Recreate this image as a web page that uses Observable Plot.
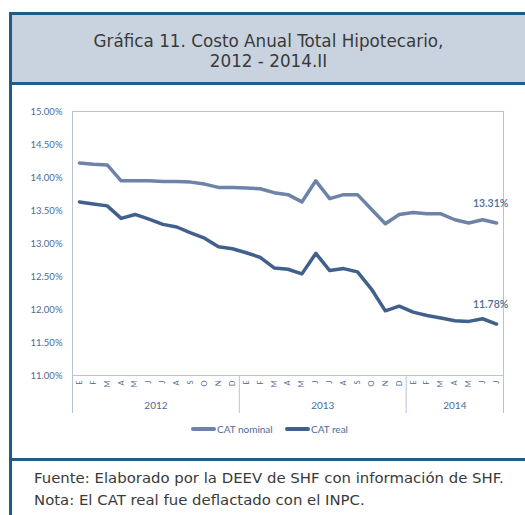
<!DOCTYPE html>
<html><head><meta charset="utf-8">
<script src="https://cdn.jsdelivr.net/npm/d3@7"></script>
<script src="https://cdn.jsdelivr.net/npm/@observablehq/plot@0.6"></script>
<style>
html,body{margin:0;padding:0;background:#fff;}
body{width:525px;height:515px;position:relative;overflow:hidden;font-family:"DejaVu Sans",sans-serif;}
#title{position:absolute;left:9px;top:12px;width:516px;height:73px;box-sizing:border-box;background:#c9d3df;border-top:3px solid #1d5d86;border-bottom:3px solid #1d5d86;border-left:3px solid #1d5d86;text-align:center;color:#3a3a3a;font-size:16.8px;line-height:20px;padding-top:16px;}
#lborder{position:absolute;left:9px;top:85px;width:3px;height:430px;background:#1d5d86;}
#divider{position:absolute;left:9px;top:458px;width:516px;height:3px;background:#1d5d86;}
#chart{position:absolute;left:0;top:90px;}
#legend{position:absolute;top:422px;left:0;width:525px;font-family:Lato,sans-serif;font-size:10px;color:#4d6b95;}
.item{position:absolute;top:0;white-space:nowrap;line-height:14px;}
.sw{display:inline-block;width:25px;height:4px;border-radius:2px;vertical-align:middle;margin-right:1px;position:relative;top:-1px;}
#foot{position:absolute;left:34px;top:467px;color:#3a3a3a;font-size:14.9px;line-height:22px;white-space:nowrap;}
</style></head>
<body>
<div id="title">Gráfica 11. Costo Anual Total Hipotecario,<br>2012 - 2014.II</div>
<div id="lborder"></div>
<div id="chart"></div>
<div id="legend"></div>
<div id="divider"></div>
<div id="foot">Fuente: Elaborado por la DEEV de SHF con información de SHF.<br>Nota: El CAT real fue deflactado con el INPC.</div>
<script>
const months = ["E","F","M","A","M","J","J","A","S","O","N","D",
                "E","F","M","A","M","J","J","A","S","O","N","D",
                "E","F","M","A","M","J","J"];
const monthYears = [2012,2012,2012,2012,2012,2012,2012,2012,2012,2012,2012,2012,
                    2013,2013,2013,2013,2013,2013,2013,2013,2013,2013,2013,2013,
                    2014,2014,2014,2014,2014,2014,2014];
const catNominal = [14.22,14.20,14.19,13.95,13.95,13.95,13.94,13.94,13.93,13.90,13.85,13.85,
                    13.84,13.83,13.77,13.74,13.63,13.95,13.68,13.74,13.74,13.52,13.30,13.44,
                    13.47,13.45,13.45,13.36,13.31,13.36,13.31];
const catReal = [13.63,13.60,13.57,13.38,13.44,13.37,13.29,13.25,13.16,13.08,12.95,12.92,
                 12.86,12.79,12.63,12.61,12.54,12.85,12.59,12.62,12.57,12.31,11.98,12.05,
                 11.96,11.91,11.87,11.83,11.82,11.86,11.78];
const yTicks = [11,11.5,12,12.5,13,13.5,14,14.5,15];
const seriesNames = ["CAT nominal","CAT real"];
const seriesColors = ["#6d83a7","#41608b"];

const n = months.length;
const rows = months.map((m,i)=>({i, nominal:catNominal[i], real:catReal[i]}));
const years = Array.from(new Set(monthYears));
const yearIdx = years.map(y => monthYears.map((v,i)=>v===y?i:-1).filter(i=>i>=0));
const yearCenters = yearIdx.map(ix => (ix[0]+ix[ix.length-1])/2);
const yearLabel = new Map(yearCenters.map((c,k)=>[c,String(years[k])]));
const boundaries = [-0.5, ...yearIdx.map(ix => ix[ix.length-1]+0.5)];
const last = n-1;
const endLabels = [
  {i:last, v:catNominal[last]},
  {i:last, v:catReal[last]}
];

const axisColor = "#4d6b95";
const frameColor = "#b8c4d4";

const chart = Plot.plot({
  width:525, height:355,
  marginTop:21, marginBottom:70, marginLeft:72, marginRight:22,
  style:{fontFamily:"Lato, sans-serif", fontSize:"9px", color:axisColor, background:"transparent", overflow:"visible"},
  x:{type:"linear", domain:[-0.5, n-0.5], axis:null, label:null},
  y:{domain:[11,15], axis:null, label:null},
  marks:[
    Plot.frame({stroke:frameColor}),
    Plot.axisY({ticks:yTicks, tickSize:0, tickPadding:10, tickFormat:d=>d.toFixed(2)+"%", fill:axisColor, fontSize:9.5, label:null}),
    Plot.axisX({ticks:boundaries, tickSize:38, tickFormat:()=>"", stroke:frameColor, label:null}),
    Plot.axisX({ticks:d3.range(n), tickSize:0, tickPadding:5, tickRotate:-90, tickFormat:i=>months[i], fill:axisColor, fontSize:7.5, label:null}),
    Plot.axisX({ticks:yearCenters, tickSize:0, tickPadding:26, tickFormat:d=>yearLabel.get(d), fill:axisColor, fontSize:10, label:null}),
    Plot.line(rows,{x:"i", y:"nominal", stroke:seriesColors[0], strokeWidth:3.5, strokeLinejoin:"round"}),
    Plot.line(rows,{x:"i", y:"real", stroke:seriesColors[1], strokeWidth:3.5, strokeLinejoin:"round"}),
    Plot.text(endLabels,{x:"i", y:"v", text:d=>d.v.toFixed(2)+"%", dy:-19, dx:-6, fill:axisColor, fontSize:10.5, fontWeight:"600"})
  ]
});
document.getElementById("chart").appendChild(chart);

const legend = document.getElementById("legend");
const legendLeft = [191, 285];
seriesNames.forEach((s,k)=>{
  const d = document.createElement("div");
  d.className = "item";
  d.style.left = legendLeft[k]+"px";
  d.innerHTML = `<span class="sw" style="background:${seriesColors[k]}"></span>${s}`;
  legend.appendChild(d);
});
</script>
</body></html>
